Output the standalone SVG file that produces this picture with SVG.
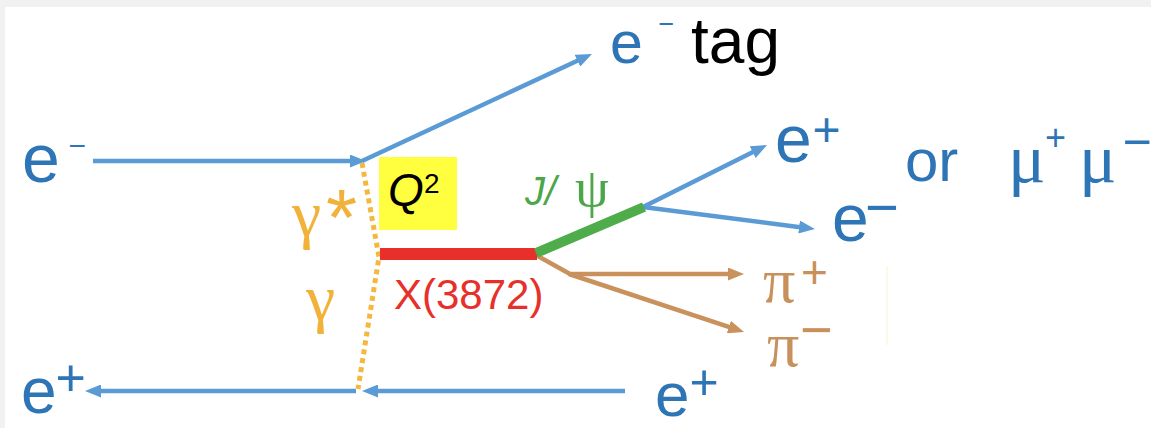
<svg xmlns="http://www.w3.org/2000/svg" width="1151" height="428" viewBox="0 0 1151 428">
  <style>
    text { font-family: "Liberation Sans", Arial, sans-serif; }
    .greek { font-family: "Liberation Serif", "Times New Roman", serif; }
    .blue { fill: #2e75b6; }
    .orange { fill: #f2b23a; }
    .brownT { fill: #c8905a; }
    .greenT { fill: #4ca64a; }
    .redT { fill: #e8302a; }
    .eline { fill: none; stroke: #5b9bd5; stroke-width: 4.5; }
    .pline { fill: none; stroke: #c9925c; stroke-width: 4.5; stroke-linejoin: round; }
  </style>
  <defs>
    <marker id="arrBlue" markerUnits="userSpaceOnUse" markerWidth="16" markerHeight="13" refX="7" refY="6.5" orient="auto">
      <path d="M0,0 L16,6.5 L0,13 z" fill="#5b9bd5"/>
    </marker>
    <marker id="arrBrown" markerUnits="userSpaceOnUse" markerWidth="16" markerHeight="13" refX="7" refY="6.5" orient="auto">
      <path d="M0,0 L16,6.5 L0,13 z" fill="#c9925c"/>
    </marker>
  </defs>

  <!-- page frame -->
  <rect x="0" y="0" width="1151" height="428" fill="#ffffff"/>
  <rect x="0" y="0" width="1151" height="7" fill="#f1f1f1"/>
  <rect x="0" y="0" width="5" height="428" fill="#f1f1f1"/>
  <line x1="887" y1="266" x2="887" y2="345" stroke="#fcf9e6" stroke-width="2"/>

  <!-- propagators and particle lines -->
  <g id="connectors">
    <polyline points="362,163 379,257 358,389" fill="none" stroke="#f4b83f" stroke-width="5" stroke-dasharray="5 4"/>
    <line class="eline" x1="93" y1="161" x2="357" y2="161" marker-end="url(#arrBlue)"/>
    <line class="eline" x1="362" y1="161" x2="583.8" y2="57.8" marker-end="url(#arrBlue)"/>
    <line class="eline" x1="643" y1="207" x2="759" y2="149" marker-end="url(#arrBlue)"/>
    <line class="eline" x1="643" y1="207" x2="806" y2="227.9" marker-end="url(#arrBlue)"/>
    <polyline class="pline" points="536,255 570,274 735,274" marker-end="url(#arrBrown)"/>
    <line class="pline" x1="569" y1="274" x2="735.5" y2="329.2" marker-end="url(#arrBrown)"/>
    <line class="eline" x1="625" y1="391" x2="371" y2="391" marker-end="url(#arrBlue)"/>
    <line class="eline" x1="356" y1="391" x2="94" y2="391" marker-end="url(#arrBlue)"/>
    <line x1="380" y1="254" x2="537" y2="254" stroke="#e8302a" stroke-width="12"/>
    <line x1="536" y1="253" x2="644" y2="207" stroke="#4ead4a" stroke-width="10"/>
  </g>

  <!-- incoming electron -->
  <g id="e-in">
    <text class="blue" x="22" y="182" font-size="68">e</text>
    <text class="blue" x="68.5" y="156" font-size="30">−</text>
  </g>

  <!-- tagged electron -->
  <g id="e-tag">
    <text class="blue" x="610" y="63" font-size="59">e</text>
    <text class="blue" x="658.5" y="33" font-size="27">−</text>
    <text x="691" y="63" font-size="64" fill="#000000">tag</text>
  </g>

  <!-- virtuality box -->
  <g id="q2">
    <rect x="379" y="157" width="78" height="73" fill="#ffff3f"/>
    <text x="388" y="206" font-size="46" font-style="italic" fill="#000000">Q</text>
    <text x="424" y="193" font-size="28" fill="#000000">2</text>
  </g>

  <!-- photon labels -->
  <g id="gamma-star">
    <text class="greek orange" x="292" y="236" font-size="66">γ</text>
    <text class="orange" x="326" y="245" font-size="80">*</text>
  </g>
  <g id="gamma">
    <text class="greek orange" x="306" y="320" font-size="66">γ</text>
  </g>

  <!-- X(3872) -->
  <g id="x3872">
    <text class="redT" x="394" y="309" font-size="42">X(3872)</text>
  </g>

  <!-- J/psi -->
  <g id="jpsi">
    <text class="greenT" x="525" y="205" font-size="40" font-style="italic">J/</text>
    <text class="greek greenT" x="575" y="206" font-size="54">ψ</text>
  </g>

  <!-- lepton pair from J/psi -->
  <g id="e-plus-decay">
    <text class="blue" x="775" y="162" font-size="66">e</text>
    <text class="blue" x="812.5" y="146" font-size="48">+</text>
  </g>
  <g id="e-minus-decay">
    <text class="blue" x="832" y="241" font-size="66">e</text>
    <text class="blue" x="865" y="227" font-size="58">−</text>
  </g>
  <g id="or-mumu">
    <text class="blue" x="905" y="181" font-size="60">or</text>
    <text class="greek blue" x="1008" y="182" font-size="70">μ</text>
    <text class="blue" x="1045" y="150" font-size="36">+</text>
    <text class="greek blue" x="1079" y="182" font-size="70">μ</text>
    <text class="blue" x="1122.5" y="159" font-size="50">−</text>
  </g>

  <!-- pions -->
  <g id="pi-plus">
    <text class="greek brownT" x="763" y="302" font-size="64">π</text>
    <text class="brownT" x="801" y="288" font-size="46">+</text>
  </g>
  <g id="pi-minus">
    <text class="greek brownT" x="767" y="366" font-size="64">π</text>
    <text class="brownT" x="800" y="349" font-size="56">−</text>
  </g>

  <!-- positron beam -->
  <g id="e-plus-in">
    <text class="blue" x="655" y="416" font-size="62">e</text>
    <text class="blue" x="689.5" y="399" font-size="50">+</text>
  </g>
  <g id="e-plus-out">
    <text class="blue" x="21" y="413" font-size="64">e</text>
    <text class="blue" x="55.5" y="395.5" font-size="52">+</text>
  </g>
</svg>
